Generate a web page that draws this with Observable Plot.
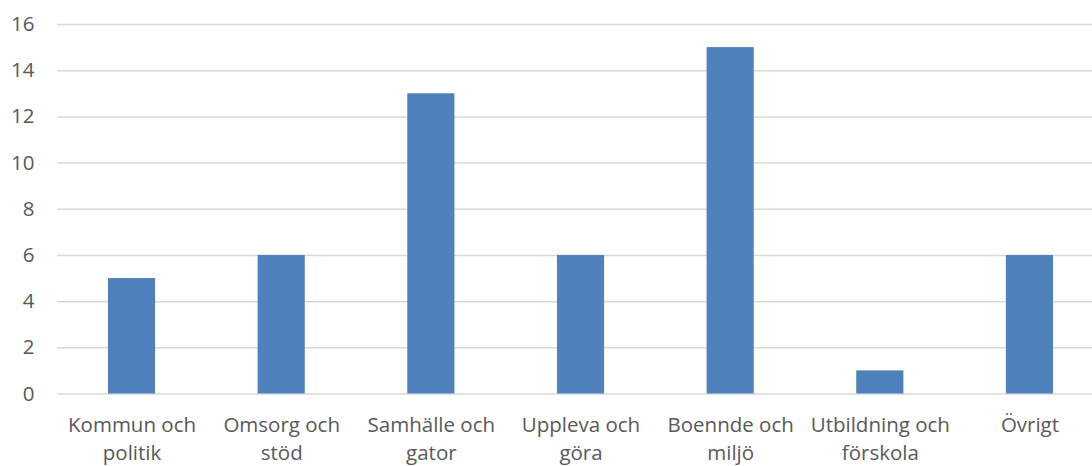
<!DOCTYPE html>
<html>
<head>
<meta charset="utf-8">
<script src="https://cdn.jsdelivr.net/npm/d3@7"></script>
<script src="https://cdn.jsdelivr.net/npm/@observablehq/plot@0.6"></script>
<style>
  html, body { margin: 0; padding: 0; background: #fff; }
  #chart svg { display: block; }
</style>
</head>
<body>
<div id="chart"></div>
<script>
const categories = ["Kommun och\npolitik", "Omsorg och\nstöd", "Samhälle och\ngator", "Uppleva och\ngöra", "Boennde och\nmiljö", "Utbildning och\nförskola", "Övrigt"];
const values = [5, 6, 13, 6, 15, 1, 6];
const yTicks = [0, 2, 4, 6, 8, 10, 12, 14, 16];

const data = categories.map((c, i) => ({category: c, value: values[i]}));

const chart = Plot.plot({
  width: 1092,
  height: 466,
  marginTop: 24,
  marginBottom: 72.5,
  marginLeft: 57,
  marginRight: 0,
  style: {fontFamily: "Open Sans", fontSize: "20.5px", color: "#595959", background: "#fff"},
  x: {domain: categories, range: [56.7, 1104.3], round: false, paddingInner: 0.685, paddingOuter: 0.3425, label: null},
  y: {domain: [0, 16], ticks: yTicks, label: null},
  marks: [
    Plot.ruleY(yTicks, {stroke: "#d9d9d9", strokeWidth: 1.5}),
    Plot.barY(data, {x: "category", y: "value", fill: "#4f81bd"}),
    Plot.axisY(yTicks, {tickSize: 0, tickPadding: 23, fontSize: 20.5, fill: "#595959", label: null}),
    Plot.axisX({tickSize: 0, tickPadding: 18, fontSize: 20.5, lineHeight: 1.38, fill: "#595959", label: null, textAnchor: "middle"})
  ]
});
document.getElementById("chart").appendChild(chart);
</script>
</body>
</html>
